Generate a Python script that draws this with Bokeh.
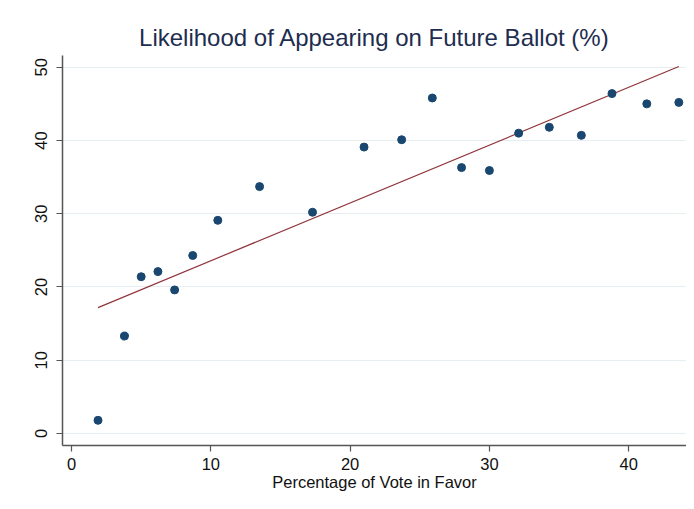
import numpy as np
from bokeh.plotting import figure
from bokeh.models import Range1d
from bokeh.embed import file_html
from bokeh.resources import INLINE

# ---- data ----
vote_pct = [1.9, 3.8, 5.0, 6.2, 7.4, 8.7, 10.5, 13.5, 17.3, 21.0,
            23.7, 25.9, 28.0, 30.0, 32.1, 34.3, 36.6, 38.8, 41.3, 43.6]
ballot_pct = [1.8, 13.3, 21.4, 22.1, 19.6, 24.3, 29.1, 33.7, 30.2, 39.1,
              40.1, 45.8, 36.3, 35.9, 41.0, 41.8, 40.7, 46.4, 45.0, 45.2]
x_ticks = [0, 10, 20, 30, 40]
y_ticks = [0, 10, 20, 30, 40, 50]
title_text = "Likelihood of Appearing on Future Ballot (%)"
x_label = "Percentage of Vote in Favor"

# linear fit line
slope, intercept = np.polyfit(vote_pct, ballot_pct, 1)
fit_x = [min(vote_pct), max(vote_pct)]
fit_y = [intercept + slope * v for v in fit_x]

FONT = "Liberation Sans"

p = figure(width=686, height=501, output_backend="svg", toolbar_location=None,
           x_range=Range1d(-0.65, 44.15), y_range=Range1d(-1.64, 51.6),
           min_border_left=62, min_border_right=0, min_border_top=55,
           min_border_bottom=56)

p.background_fill_color = "white"
p.border_fill_color = "white"
p.outline_line_color = None

p.title.text = title_text
p.title.align = "center"
p.title.text_font = FONT
p.title.text_font_size = "24px"
p.title.text_font_style = "normal"
p.title.text_color = "#1e2d4f"
p.title.standoff = 10

# grid
p.xgrid.grid_line_color = None
p.ygrid.grid_line_color = "#e6eef1"
p.ygrid.grid_line_width = 1

# axes
for ax in (p.xaxis[0], p.yaxis[0]):
    ax.axis_line_color = "#555555"
    ax.axis_line_width = 1.5
    ax.major_tick_line_color = "#555555"
    ax.major_tick_line_width = 1.2
    ax.major_tick_out = 6
    ax.major_tick_in = 0
    ax.minor_tick_line_color = None
    ax.major_label_text_font = FONT
    ax.major_label_text_font_size = "16.5px"
    ax.major_label_text_color = "#111111"

p.xaxis.ticker = x_ticks
p.yaxis.ticker = y_ticks
p.yaxis.major_label_orientation = "vertical"
p.yaxis.major_label_standoff = 9
p.xaxis.major_label_standoff = 6

p.xaxis.axis_label = x_label
p.xaxis.axis_label_text_font = FONT
p.xaxis.axis_label_text_font_size = "16.5px"
p.xaxis.axis_label_text_font_style = "normal"
p.xaxis.axis_label_text_color = "#111111"
p.xaxis.axis_label_standoff = 0

# fit line and points
p.line(fit_x, fit_y, line_color="#90353b", line_width=1.2)
p.scatter(vote_pct, ballot_pct, size=8, fill_color="#1a476f",
          line_color="#1a476f", marker="circle")

open("out.html", "w").write(file_html(p, INLINE))
